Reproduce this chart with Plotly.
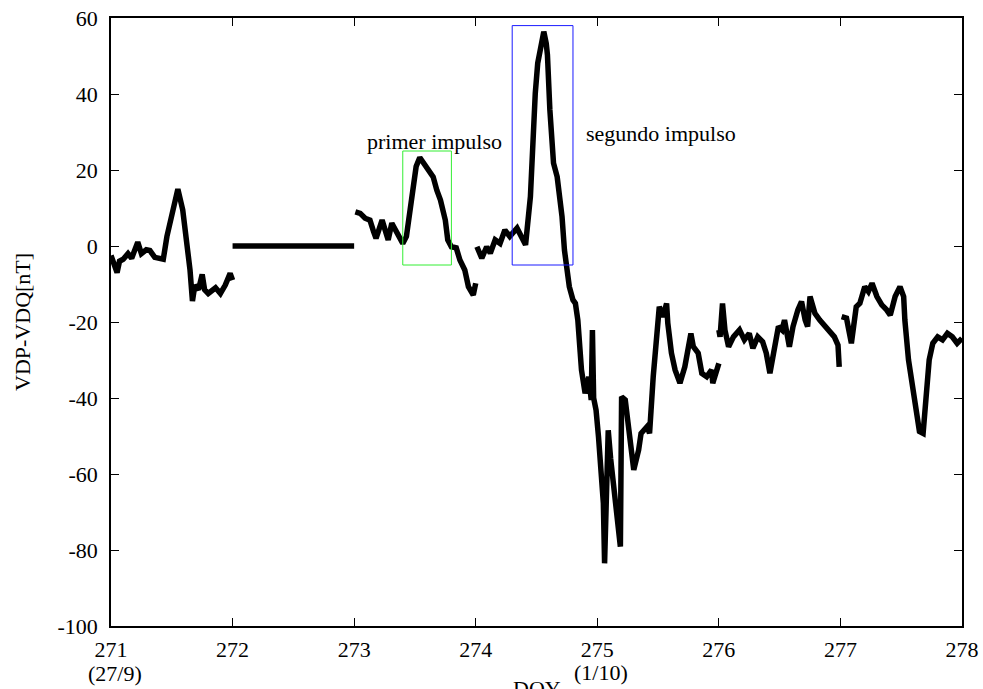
import plotly.graph_objects as go

# ---- data ----
seg1_x = [271.00, 271.03, 271.05, 271.07, 271.10, 271.14, 271.17, 271.22, 271.25, 271.29, 271.32,
          271.36, 271.43, 271.46, 271.50, 271.55, 271.59, 271.62, 271.65, 271.67, 271.69, 271.72,
          271.75, 271.77, 271.80, 271.86, 271.90, 271.94, 271.98, 272.00]
seg1_y = [-2.5, -5.5, -7.0, -4.0, -3.5, -2.0, -3.2, 1.0, -2.0, -1.0, -1.2,
          -3.0, -3.5, 2.5, 7.7, 15.0, 9.5, 2.5, -6.3, -14.5, -10.3, -11.5,
          -7.5, -11.5, -12.5, -11.0, -12.5, -10.3, -7.2, -9.0]

seg2_x = [272.0, 273.0]
seg2_y = [0.0, 0.0]

seg3_x = [273.01, 273.05, 273.09, 273.13, 273.16, 273.18, 273.23, 273.25, 273.28, 273.31, 273.35,
          273.40, 273.43, 273.46, 273.49, 273.51, 273.54, 273.57, 273.61, 273.65, 273.68, 273.71,
          273.75, 273.77, 273.80, 273.84, 273.87, 273.91, 273.94, 273.98, 274.00]
seg3_y = [9.0, 8.6, 7.3, 6.8, 3.8, 2.0, 6.8, 4.2, 1.6, 6.0, 3.3,
          0.7, 2.5, 9.5, 16.5, 20.9, 23.3, 21.8, 20.0, 18.2, 14.7, 12.1,
          6.8, 1.6, -0.2, -0.5, -3.7, -6.3, -10.7, -12.9, -9.8]

seg4_x = [274.01, 274.05, 274.09, 274.12, 274.16, 274.20, 274.24, 274.28, 274.34, 274.38, 274.41,
          274.45, 274.47, 274.49, 274.51, 274.54, 274.56, 274.58, 274.59, 274.61, 274.62, 274.64,
          274.67, 274.68, 274.71, 274.73, 274.76, 274.77, 274.80, 274.82, 274.84, 274.86, 274.87,
          274.90, 274.93, 274.95, 274.96, 274.97, 274.99, 275.01, 275.03, 275.05, 275.06, 275.09,
          275.11, 275.14, 275.17, 275.19, 275.20, 275.23, 275.25, 275.30, 275.34, 275.36, 275.41,
          275.43, 275.46, 275.49, 275.51, 275.54, 275.57, 275.58, 275.61, 275.64, 275.68, 275.72,
          275.77, 275.79, 275.83, 275.86, 275.90, 275.94, 275.95, 276.00]
seg4_y = [-0.2, -3.2, -0.2, -1.9, 1.6, 0.7, 4.2, 2.5, 4.7, 2.5, 0.3,
          13.0, 28.8, 40.2, 48.1, 53.3, 56.4, 53.3, 50.3, 35.8, 28.8, 21.8,
          18.2, 15.6, 7.7, -1.1, -7.2, -10.7, -14.2, -15.1, -19.5, -28.2, -32.6,
          -38.8, -34.4, -40.5, -22.1, -40.0, -43.2, -50.2, -58.9, -67.7, -83.5, -48.5,
          -56.0, -64.0, -73.0, -79.1, -39.7, -40.5, -45.8, -58.9, -53.7, -49.3, -47.5,
          -49.3, -34.4, -23.9, -16.0, -18.6, -15.1, -20.3, -28.2, -32.6, -36.1, -31.8,
          -23.0, -26.5, -28.2, -33.5, -34.4, -32.6, -36.1, -30.9]

seg5_x = [276.00, 276.01, 276.03, 276.05, 276.08, 276.12, 276.17, 276.21, 276.25, 276.28, 276.32,
          276.36, 276.39, 276.42, 276.45, 276.49, 276.52, 276.54, 276.58, 276.61, 276.65, 276.68,
          276.71, 276.73, 276.75, 276.79, 276.83, 276.87, 276.91, 276.95, 276.98, 276.99]
seg5_y = [-22.1, -23.9, -15.1, -22.1, -26.5, -23.9, -22.1, -24.7, -23.0, -26.9, -23.9,
          -25.2, -28.2, -33.5, -28.2, -21.2, -22.1, -19.5, -26.5, -21.2, -16.8, -14.6,
          -19.5, -21.2, -13.3, -17.7, -19.5, -20.8, -22.6, -23.9, -26.1, -31.8]

seg6_x = [277.01, 277.05, 277.09, 277.11, 277.13, 277.16, 277.20, 277.23, 277.26, 277.30, 277.34,
          277.38, 277.41, 277.45, 277.49, 277.52, 277.53, 277.56, 277.59, 277.63, 277.65, 277.68,
          277.70, 277.72, 277.73, 277.76, 277.80, 277.84, 277.88, 277.92, 277.96, 278.00]
seg6_y = [-18.6, -19.0, -25.6, -19.5, -16.0, -15.1, -10.7, -12.0, -9.8, -13.3, -15.5,
          -16.8, -18.2, -13.3, -10.7, -13.3, -19.5, -30.0, -37.0, -45.8, -48.8, -49.3,
          -42.3, -37.0, -30.0, -25.6, -23.9, -24.7, -23.0, -23.9, -25.6, -24.3]

segments = [(seg1_x, seg1_y), (seg2_x, seg2_y), (seg3_x, seg3_y),
            (seg4_x, seg4_y), (seg5_x, seg5_y), (seg6_x, seg6_y)]

x_ticks = [271, 272, 273, 274, 275, 276, 277, 278]
x_ticktext = ["271", "272", "273", "274", "275", "276", "277", "278"]
y_ticks = [-100, -80, -60, -40, -20, 0, 20, 40, 60]
y_ticktext = ["-100", "-80", "-60", "-40", "-20", "0", "20", "40", "60"]

box1 = dict(x0=273.4, x1=273.8, y0=-5, y1=25)   # primer impulso
box2 = dict(x0=274.3, x1=274.8, y0=-5, y1=58)   # segundo impulso

FONT = "Liberation Serif, Times New Roman, serif"
FS = 22

fig = go.Figure()
for sx, sy in segments:
    fig.add_trace(go.Scatter(x=sx, y=sy, mode="lines",
                             line=dict(color="black", width=5.5),
                             hoverinfo="skip", showlegend=False))

fig.add_shape(type="rect", xref="x", yref="y", **box1,
              line=dict(color="#33ee33", width=1))
fig.add_shape(type="rect", xref="x", yref="y", **box2,
              line=dict(color="#1a1aff", width=1))

fig.add_annotation(x=273.66, y=27.6, xref="x", yref="y", text="primer impulso",
                   showarrow=False, xanchor="center", yanchor="middle",
                   font=dict(family=FONT, size=FS, color="black"))
fig.add_annotation(x=274.89, y=29.7, xref="x", yref="y", text="segundo impulso",
                   showarrow=False, xanchor="left", yanchor="middle",
                   font=dict(family=FONT, size=FS, color="black"))

fig.add_annotation(x=271.03, y=-0.0775, xref="x", yref="paper", text="(27/9)",
                   showarrow=False, xanchor="center", yanchor="middle",
                   font=dict(family=FONT, size=FS, color="black"))
fig.add_annotation(x=275.03, y=-0.076, xref="x", yref="paper", text="(1/10)",
                   showarrow=False, xanchor="center", yanchor="middle",
                   font=dict(family=FONT, size=FS, color="black"))
fig.add_annotation(x=0.5, y=-0.079, xref="paper", yref="paper", text="DOY",
                   showarrow=False, xanchor="center", yanchor="top",
                   font=dict(family=FONT, size=FS, color="black"))
fig.add_annotation(x=-0.1046, y=0.5, xref="paper", yref="paper", text="VDP-VDQ[nT]",
                   showarrow=False, textangle=-90, xanchor="center", yanchor="middle",
                   font=dict(family=FONT, size=FS, color="black"))

axis_common = dict(showline=True, linecolor="black", linewidth=1.5, mirror="allticks",
                   ticks="inside", ticklen=8, tickwidth=1, tickcolor="black",
                   showgrid=False, zeroline=False, automargin=False,
                   tickfont=dict(family=FONT, size=FS, color="black"))

fig.update_layout(
    width=983, height=689,
    margin=dict(l=111, r=21, t=18, b=63, autoexpand=False),
    plot_bgcolor="white", paper_bgcolor="white",
    showlegend=False,
    font=dict(family=FONT, size=FS, color="black"),
    xaxis=dict(range=[271, 278], tickvals=x_ticks, ticktext=x_ticktext,
               ticklabelstandoff=3, **axis_common),
    yaxis=dict(range=[-100, 60], tickvals=y_ticks, ticktext=y_ticktext,
               ticklabelstandoff=7, **axis_common),
)

fig.write_html("out.html")
